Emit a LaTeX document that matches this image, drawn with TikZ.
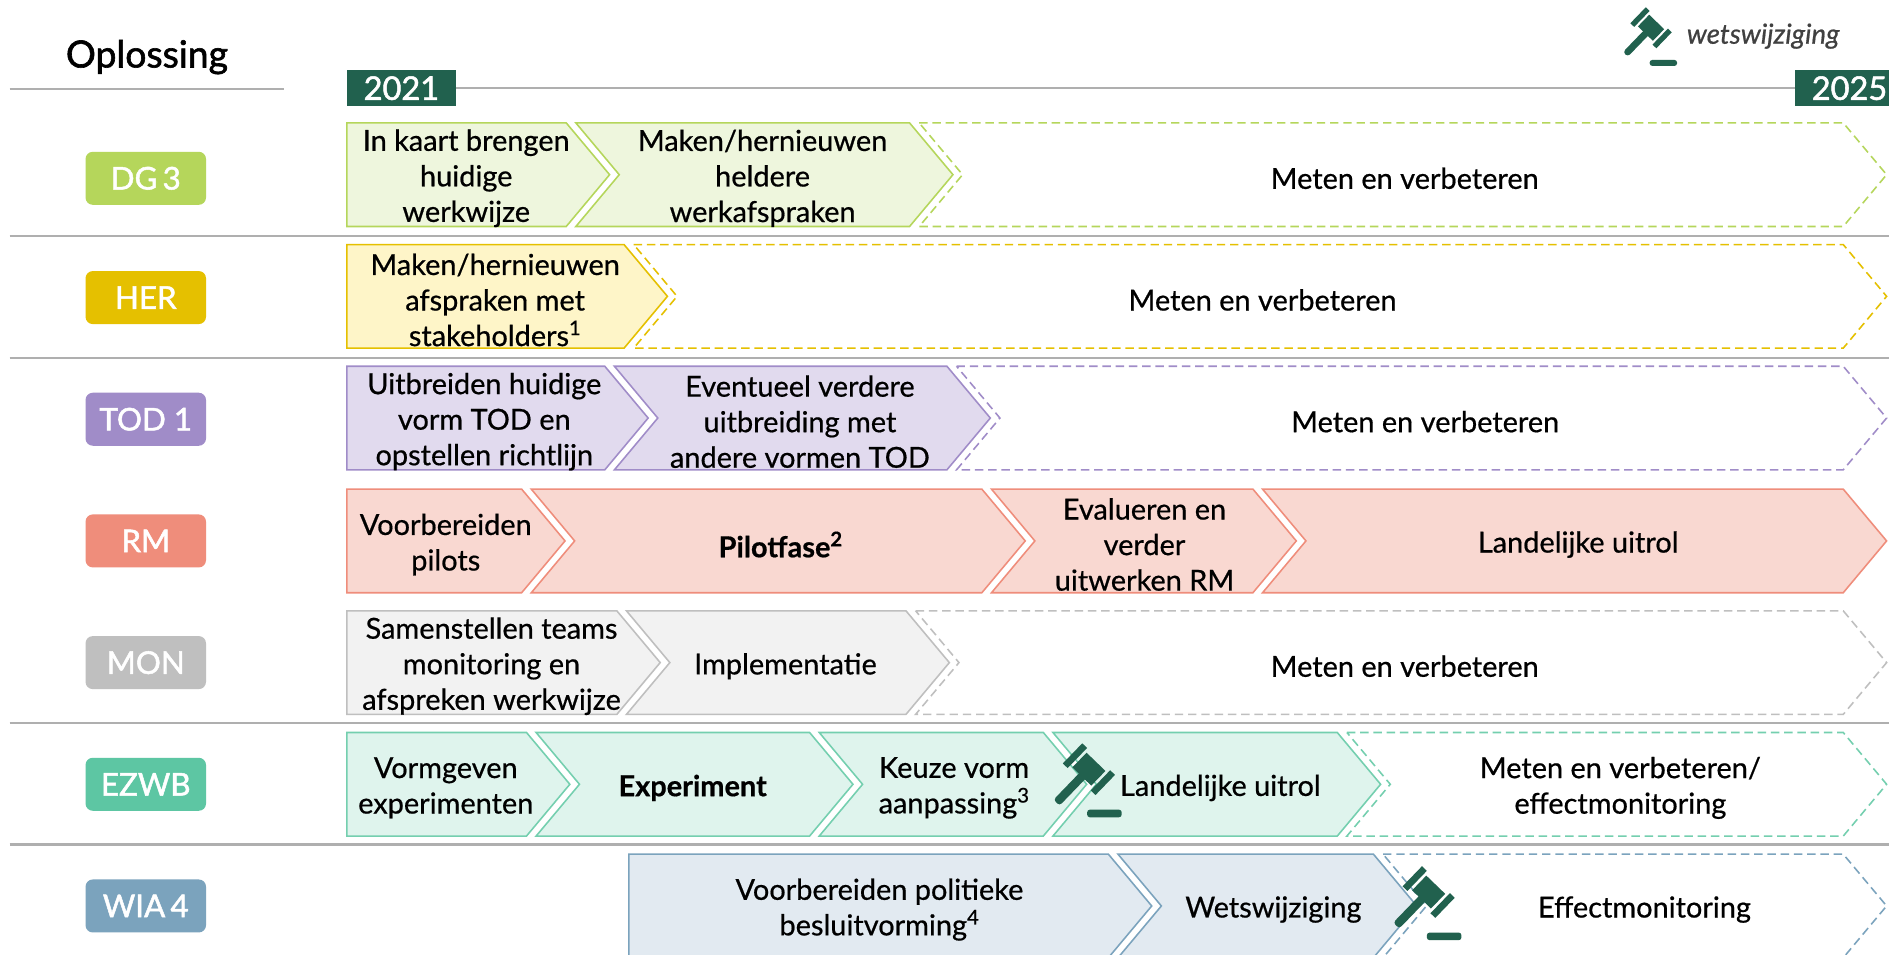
\documentclass[tikz,border=0pt]{standalone}
\usepackage{fontspec}
\setmainfont{Lato}[RawFeature={embolden=0.6}]
\newfontfamily\medfont{Lato}[RawFeature={embolden=1.6}]
\definecolor{yearC}{HTML}{21614E}
\definecolor{sepC}{HTML}{AFAFAF}
\definecolor{wgray}{HTML}{404040}
\definecolor{dgC}{HTML}{B5D65B}\definecolor{dgF}{HTML}{EEF6DD}
\definecolor{herC}{HTML}{E5C000}\definecolor{herF}{HTML}{FEF5C8}
\definecolor{todC}{HTML}{A08CC8}\definecolor{todF}{HTML}{E1DAEE}
\definecolor{rmC}{HTML}{EF8D7B}\definecolor{rmF}{HTML}{F9D8D1}
\definecolor{monC}{HTML}{BFBFBF}\definecolor{monF}{HTML}{F2F2F2}
\definecolor{ezC}{HTML}{5DC6A3}\definecolor{ezL}{HTML}{74CFAF}\definecolor{ezF}{HTML}{DFF4ED}
\definecolor{wiaC}{HTML}{7BA3BD}\definecolor{wiaF}{HTML}{E2EAF1}
\newcommand\chevN[4]{\path[#1] (#2,#4-43) -- (#3,#4-43) -- (#3+36,#4) -- (#3,#4+43) -- (#2,#4+43) -- (#2+36,#4) -- cycle;}
\newcommand\chevF[4]{\path[#1] (#2,#4-43) -- (#3,#4-43) -- (#3+36,#4) -- (#3,#4+43) -- (#2,#4+43) -- cycle;}
\tikzset{
  solidchev/.style={draw=#1, line width=1.3pt, line join=miter},
  dashchev/.style={draw=#1, fill=white, line width=1.3pt, dash pattern=on 7pt off 4pt},
  txt/.style={align=center, font=\fontsize{24}{29.5}\selectfont, inner sep=0pt, yshift=-3pt},
  badge/.style={minimum width=100pt, minimum height=44pt, rounded corners=6pt, text=white, inner sep=0pt, font=\medfont\fontsize{26}{28}\selectfont},
  yearbox/.style={fill=yearC, text=white, minimum width=90pt, minimum height=30pt, inner sep=0pt, font=\medfont\fontsize{27}{30}\selectfont, anchor=north west},
  sepline/.style={draw=sepC, line width=1.8pt},
  gavel/.pic={
    \fill[yearC, rounded corners=2.2pt] (24.3,41.4) rectangle (48,46.6);
    \begin{scope}[shift={(25.5,13.6)},rotate=-44]
      \fill[yearC] (-9,-7) rectangle (9,7);
      \fill[yearC] (-15.6,-9.6) rectangle (-11,9.6);
      \fill[yearC] (11,-9.6) rectangle (15.6,9.6);
      \fill[yearC, rounded corners=2.6pt] (-2.9,4) rectangle (2.9,32);
    \end{scope}
  }
}
\begin{document}
\begin{tikzpicture}[x=1pt,y=-1pt]
\useasboundingbox (0,0) rectangle (1568,792);
\fill[white] (0,0) rectangle (1568,792);
\begin{scope}
\clip (0,0) rectangle (1568,792);
% header
\node[font=\medfont\fontsize{31}{34}\selectfont, anchor=base, inner sep=0pt] (opl) at (122,56) {Oplossing};
\draw[sepline] (8,74) -- (236,74);
\node[yearbox] (y2021) at (288,58) {2021};
\node[yearbox] (y2025) at (1490,58) {2025};
\draw[sepline, line width=1.3pt] (y2021.east) -- (y2025.west);
\pic[scale=0.96] at (1346,10) {gavel};
\node[font=\itshape\fontsize{23}{26}\selectfont, text=wgray, anchor=west, inner sep=0pt] (wets) at (1400,30) {wetswijziging};
% separators
\draw[sepline] (8,196) -- (1568,196);
\draw[sepline] (8,297) -- (1568,297);
\draw[sepline] (8,600) -- (1568,600);
\draw[sepline] (8,701) -- (1568,701);
% badges
\node[badge, fill=dgC] (bdg) at (121,148) {DG\,3};
\node[badge, fill=herC] (bher) at (121,247) {HER};
\node[badge, fill=todC] (btod) at (121,348) {TOD 1};
\node[badge, fill=rmC] (brm) at (121,449) {RM};
\node[badge, fill=monC] (bmon) at (121,550) {MON};
\node[badge, fill=ezC] (bez) at (121,651) {EZWB};
\node[badge, fill=wiaC] (bwia) at (121,752) {WIA\,4};
% DG3
\chevF{solidchev=dgC, fill=dgF}{288}{470}{145}
\chevN{solidchev=dgC, fill=dgF}{478}{755}{145}
\chevN{dashchev=dgC}{763}{1530}{145}
\node[txt] (dg1) at (387,145) {In kaart brengen\\huidige\\werkwijze};
\node[txt] (dg2) at (633,145) {Maken/hernieuwen\\heldere\\werkafspraken};
\node[txt] (dg3) at (1166,145) {Meten en verbeteren};
% HER
\chevF{solidchev=herC, fill=herF}{288}{518}{246}
\chevN{dashchev=herC}{526}{1530}{246}
\node[txt] (her1) at (411,246) {Maken/hernieuwen\\afspraken met\\stakeholders\textsuperscript{1}};
\node[txt] (her2) at (1048,246) {Meten en verbeteren};
% TOD
\chevF{solidchev=todC, fill=todF}{288}{502}{347}
\chevN{solidchev=todC, fill=todF}{510}{786}{347}
\chevN{dashchev=todC}{794}{1530}{347}
\node[txt] (tod1) at (402,347) {Uitbreiden huidige\\vorm TOD en\\opstellen richtlijn};
\node[txt] (tod2) at (664,347) {Eventueel verdere\\uitbreiding met\\andere vormen TOD};
\node[txt] (tod3) at (1183,347) {Meten en verbeteren};
% RM
\chevF{solidchev=rmC, fill=rmF}{288}{433}{449}
\chevN{solidchev=rmC, fill=rmF}{441}{815}{449}
\chevN{solidchev=rmC, fill=rmF}{823}{1040}{449}
\chevN{solidchev=rmC, fill=rmF}{1048}{1530}{449}
\node[txt] (rm1) at (370,449) {Voorbereiden\\pilots};
\node[txt, font=\bfseries\fontsize{24}{29.5}\selectfont] (rm2) at (648,449) {Pilotfase\textsuperscript{2}};
\node[txt] (rm3) at (950,449) {Evalueren en\\verder\\uitwerken RM};
\node[txt] (rm4) at (1310,449) {Landelijke uitrol};
% MON
\chevF{solidchev=monC, fill=monF}{288}{512}{550}
\chevN{solidchev=monC, fill=monF}{520}{752}{550}
\chevN{dashchev=monC}{760}{1530}{550}
\node[txt] (mon1) at (408,550) {Samenstellen teams\\monitoring en\\afspreken werkwijze};
\node[txt] (mon2) at (652,550) {Implementatie};
\node[txt] (mon3) at (1166,550) {Meten en verbeteren};
% EZWB
\chevF{solidchev=ezL, fill=ezF}{288}{437}{651}
\chevN{solidchev=ezL, fill=ezF}{445}{672}{651}
\chevN{solidchev=ezL, fill=ezF}{680}{866}{651}
\chevN{solidchev=ezL, fill=ezF}{874}{1110}{651}
\chevN{dashchev=ezL}{1118}{1530}{651}
\node[txt] (ez1) at (370,651) {Vormgeven\\experimenten};
\node[txt, font=\bfseries\fontsize{24}{29.5}\selectfont] (ez2) at (575,651) {Experiment};
\node[txt] (ez3) at (792,651) {Keuze vorm\\aanpassing\textsuperscript{3}};
\node[txt] (ez4) at (1013,651) {Landelijke uitrol};
\node[txt] (ez5) at (1345,651) {Meten en verbeteren/\\effectmonitoring};
\pic[scale=1.21] at (873,622) {gavel};
% WIA
\chevF{solidchev=wiaC, fill=wiaF}{522}{920}{752}
\chevN{solidchev=wiaC, fill=wiaF}{928}{1140}{752}
\chevN{dashchev=wiaC}{1148}{1530}{752}
\node[txt] (wia1) at (730,752) {Voorbereiden politieke\\besluitvorming\textsuperscript{4}};
\node[txt] (wia2) at (1057,752) {Wetswijziging};
\node[txt] (wia3) at (1365,752) {Effectmonitoring};
\pic[scale=1.21] at (1155,724) {gavel};
\end{scope}
\end{tikzpicture}
\end{document}
